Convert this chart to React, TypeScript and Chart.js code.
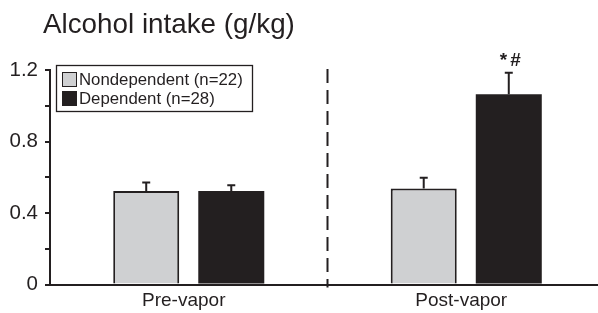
import React, { useEffect, useRef } from 'react';
import { Chart, registerables } from 'chart.js';

Chart.register(...registerables);

const chartTitle = 'Alcohol intake (g/kg)';
const categories = ['Pre-vapor', 'Post-vapor'];
const seriesLabels = ['Nondependent (n=22)', 'Dependent (n=28)'];
const nondependentMeans = [0.523, 0.537];
const nondependentErrors = [0.047, 0.06];
const dependentMeans = [0.523, 1.064];
const dependentErrors = [0.032, 0.121];
const nondependentMarks = ['', ''];
const dependentMarks = ['', '*#'];
const yLabeledTicks = [0, 0.4, 0.8, 1.2];

const INK = '#231f20';
const GRAY = '#cfd0d2';
const FONT = '"Liberation Sans", Arial, Helvetica, sans-serif';

const errorsBySeries = [nondependentErrors, dependentErrors];
const marksBySeries = [nondependentMarks, dependentMarks];

const decorPlugin = {
  id: 'decor',
  beforeDatasetsDraw(chart: any) {
    const { ctx, chartArea, scales } = chart;
    const x = scales.x;
    const mid = (x.getPixelForValue(0) + x.getPixelForValue(1)) / 2;
    ctx.save();
    ctx.strokeStyle = INK;
    ctx.lineWidth = 2;
    ctx.setLineDash([14, 7]);
    ctx.beginPath();
    ctx.moveTo(mid, chartArea.top - 1);
    ctx.lineTo(mid, chartArea.bottom + 3);
    ctx.stroke();
    ctx.restore();
  },
  afterDatasetsDraw(chart: any) {
    const { ctx, scales } = chart;
    const y = scales.y;
    ctx.save();
    chart.data.datasets.forEach((ds: any, di: number) => {
      const meta = chart.getDatasetMeta(di);
      meta.data.forEach((bar: any, i: number) => {
        const v = ds.data[i];
        const top = y.getPixelForValue(v + errorsBySeries[di][i]);
        ctx.strokeStyle = INK;
        ctx.lineWidth = 2;
        ctx.setLineDash([]);
        ctx.beginPath();
        ctx.moveTo(bar.x, bar.y);
        ctx.lineTo(bar.x, top);
        ctx.moveTo(bar.x - 4, top);
        ctx.lineTo(bar.x + 4, top);
        ctx.stroke();
        const mark = marksBySeries[di][i];
        if (mark) {
          ctx.fillStyle = INK;
          ctx.font = 'bold 19px ' + FONT;
          (ctx as any).letterSpacing = '3px';
          ctx.textAlign = 'center';
          ctx.textBaseline = 'alphabetic';
          ctx.fillText(mark, bar.x + 3, top - 7);
          (ctx as any).letterSpacing = '0px';
        }
      });
    });
    ctx.restore();
  },
  afterDraw(chart: any) {
    const { ctx } = chart;
    ctx.save();
    ctx.fillStyle = INK;
    ctx.font = '27.8px ' + FONT;
    ctx.textAlign = 'left';
    ctx.textBaseline = 'alphabetic';
    ctx.fillText(chartTitle, 43, 33);
    ctx.fillStyle = '#ffffff';
    ctx.fillRect(56.5, 65.5, 196, 46);
    ctx.strokeStyle = INK;
    ctx.lineWidth = 1.3;
    ctx.strokeRect(56.5, 65.5, 196, 46);
    chart.data.datasets.forEach((ds: any, di: number) => {
      const rowY = 72 + di * 19;
      ctx.fillStyle = ds.backgroundColor;
      ctx.fillRect(62, rowY, 14.5, 14.5);
      ctx.strokeStyle = INK;
      ctx.lineWidth = 1;
      ctx.strokeRect(62.5, rowY + 0.5, 14, 14);
      ctx.fillStyle = INK;
      ctx.font = '16.8px ' + FONT;
      ctx.textBaseline = 'middle';
      ctx.fillText(ds.label, 79, rowY + 8);
    });
    ctx.restore();
  },
};

export default function App() {
  const ref = useRef<HTMLCanvasElement>(null);
  useEffect(() => {
    if (!ref.current) return;
    const chart = new Chart(ref.current, {
      type: 'bar',
      data: {
        labels: categories,
        datasets: [
          {
            label: seriesLabels[0],
            data: nondependentMeans,
            backgroundColor: GRAY,
            borderColor: INK,
            borderWidth: 2,
            borderSkipped: 'start',
          },
          {
            label: seriesLabels[1],
            data: dependentMeans,
            backgroundColor: INK,
            borderColor: INK,
            borderWidth: 0,
          },
        ],
      },
      options: {
        responsive: false,
        animation: false,
        devicePixelRatio: 1,
        layout: { padding: { top: 70, right: 0, left: 0, bottom: 0 } },
        datasets: { bar: { categoryPercentage: 0.613, barPercentage: 0.776 } },
        plugins: { legend: { display: false }, tooltip: { enabled: false }, title: { display: false } },
        scales: {
          x: {
            type: 'category',
            grid: { display: false },
            border: { display: true, color: INK, width: 2 },
            ticks: { color: INK, font: { family: FONT, size: 19 }, padding: -3, labelOffset: -5 },
            afterFit: (s: any) => { s.height = 28.5; },
          },
          y: {
            min: 0,
            max: 1.2,
            grid: { drawOnChartArea: false, drawTicks: true, tickLength: 5, color: INK, lineWidth: 2 },
            border: { display: true, color: INK, width: 2 },
            ticks: {
              stepSize: 0.2,
              color: INK,
              padding: 7,
              font: { family: FONT, size: 20.5 },
              callback: (v: any) => {
                const n = Number(v);
                return yLabeledTicks.some((t) => Math.abs(t - n) < 1e-6) ? String(Math.round(n * 10) / 10) : '';
              },
            },
            afterFit: (s: any) => { s.width = 50; },
          },
        },
      },
      plugins: [decorPlugin],
    });
    return () => chart.destroy();
  }, []);
  return (
    <div style={{ position: 'fixed', left: 0, top: 0, width: 598, height: 313, overflow: 'hidden', background: '#fff' }}>
      <canvas ref={ref} width={605} height={313} style={{ display: 'block' }} />
    </div>
  );
}
